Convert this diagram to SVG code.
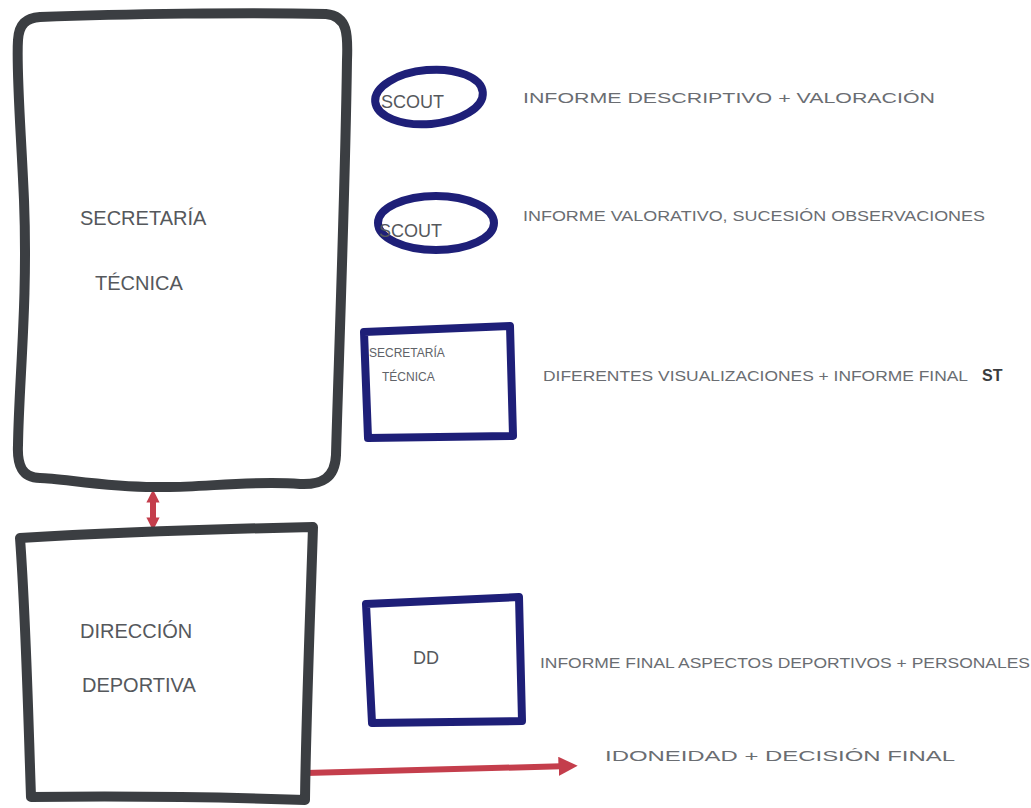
<svg xmlns="http://www.w3.org/2000/svg" width="1031" height="808" viewBox="0 0 1031 808">
<defs>
<style>
.bigbox{fill:none;stroke:#3b3e42;stroke-width:10;stroke-linejoin:round;stroke-linecap:round}
.blue{fill:none;stroke:#1e1f78;stroke-width:8;stroke-linejoin:round}
.lbl{font-family:"Liberation Sans","DejaVu Sans",sans-serif;fill:#55585c;font-size:20px}
.sm{font-family:"Liberation Sans","DejaVu Sans",sans-serif;fill:#55585c;font-size:18px}
.tiny{font-family:"Liberation Sans","DejaVu Sans",sans-serif;fill:#606368;font-size:12px}
.note{font-family:"Liberation Sans","DejaVu Sans",sans-serif;fill:#6a6d72;font-size:14px}
.st{font-family:"Liberation Sans","DejaVu Sans",sans-serif;fill:#3a3c40;font-size:16px;font-weight:bold}
.conn{stroke:#c43e4c;stroke-width:6;fill:none;stroke-linecap:butt}
</style>
<marker id="ahs" viewBox="0 0 10 10" refX="5" refY="5" markerWidth="2.2" markerHeight="2.2" orient="auto-start-reverse">
<path d="M0,0 L10,5 L0,10 z" fill="#c43e4c"/>
</marker>
<marker id="ah" viewBox="0 0 10 10" refX="6" refY="5" markerWidth="3.2" markerHeight="3.2" orient="auto">
<path d="M0,0 L10,5 L0,10 z" fill="#c43e4c"/>
</marker>
</defs>
<rect width="1031" height="808" fill="#ffffff"/>

<g id="connectors">
<path class="conn" d="M153,496 L153,524" marker-start="url(#ahs)" marker-end="url(#ahs)"/>
<path class="conn" d="M306,773 L570,766" marker-end="url(#ah)"/>
</g>

<g id="secretaria-tecnica">
<path class="bigbox" d="M40,17 C120,14 250,12 326,14 C348,16 348,35 347,60 C345,200 338,380 336,455 C335,478 322,485 300,484 C250,480 200,488 160,487 C110,488 60,478 40,478 C22,478 17,465 18,445 C19,380 28,300 24,200 C21,130 16,70 18,40 C19,24 26,18 40,17 Z"/>
<text class="lbl" x="80" y="225">SECRETARÍA</text>
<text class="lbl" x="95" y="290">TÉCNICA</text>
</g>

<g id="direccion-deportiva">
<path class="bigbox" d="M20,538 C120,532 220,529 313,527 C310,620 306,720 305,800 C220,797 120,796 31,797 C28,710 26,620 20,538 Z"/>
<text class="lbl" x="80" y="638">DIRECCIÓN</text>
<text class="lbl" x="82" y="692">DEPORTIVA</text>
</g>

<g id="scout-1">
<ellipse class="blue" cx="429" cy="97" rx="54" ry="27" transform="rotate(-5 429 97)" stroke-width="9"/>
<text class="sm" x="381" y="108">SCOUT</text>
<text class="note" x="523" y="103" textLength="412" lengthAdjust="spacingAndGlyphs">INFORME DESCRIPTIVO + VALORACIÓN</text>
</g>

<g id="scout-2">
<ellipse class="blue" cx="436" cy="223" rx="58" ry="27"/>
<text class="sm" x="379" y="237">SCOUT</text>
<text class="note" x="523" y="221" textLength="462" lengthAdjust="spacingAndGlyphs">INFORME VALORATIVO, SUCESIÓN OBSERVACIONES</text>
</g>

<g id="secretaria-tecnica-small">
<path class="blue" d="M364,332 L510,326 L513,436 L368,438 Z"/>
<text class="tiny" x="369" y="357">SECRETARÍA</text>
<text class="tiny" x="382" y="381">TÉCNICA</text>
<text class="note" x="543" y="381" textLength="425" lengthAdjust="spacingAndGlyphs">DIFERENTES VISUALIZACIONES + INFORME FINAL</text>
<text class="st" x="982" y="381">ST</text>
</g>

<g id="dd-small">
<path class="blue" d="M366,604 L519,597 L522,721 L372,723 Z"/>
<text class="sm" x="413" y="664">DD</text>
<text class="note" x="540" y="668" textLength="490" lengthAdjust="spacingAndGlyphs">INFORME FINAL ASPECTOS DEPORTIVOS + PERSONALES</text>
</g>

<g id="idoneidad">
<text class="note" x="605" y="761" textLength="350" lengthAdjust="spacingAndGlyphs">IDONEIDAD + DECISIÓN FINAL</text>
</g>
</svg>
